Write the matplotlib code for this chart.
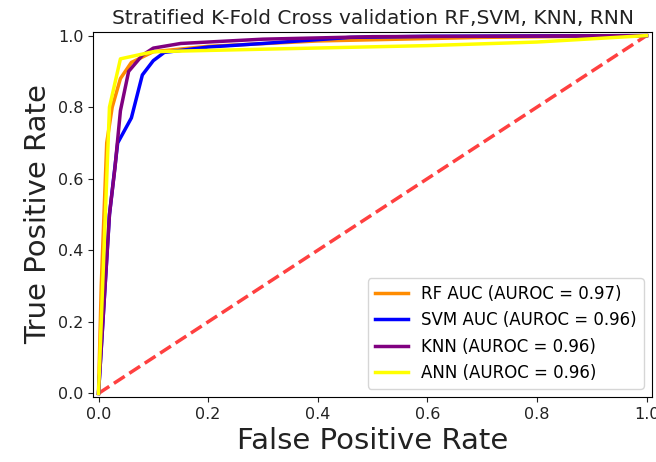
import numpy as np
import matplotlib
matplotlib.use("Agg")
import matplotlib.pyplot as plt

# ROC points (false positive rate, true positive rate)
rf_fpr = [0.0, 0.005, 0.015, 0.025, 0.04, 0.06, 0.1, 0.2, 0.4, 0.7, 1.0]
rf_tpr = [0.0, 0.30, 0.70, 0.80, 0.88, 0.925, 0.955, 0.97, 0.985, 0.995, 1.0]

svm_fpr = [0.0, 0.01, 0.02, 0.035, 0.06, 0.08, 0.1, 0.12, 0.2, 0.3, 0.46, 0.6, 1.0]
svm_tpr = [0.0, 0.25, 0.50, 0.70, 0.77, 0.89, 0.93, 0.953, 0.968, 0.978, 0.995, 0.998, 1.0]

knn_fpr = [0.0, 0.01, 0.02, 0.03, 0.04, 0.055, 0.08, 0.1, 0.15, 0.3, 0.5, 1.0]
knn_tpr = [0.0, 0.25, 0.50, 0.63, 0.79, 0.90, 0.945, 0.965, 0.978, 0.99, 0.997, 1.0]

ann_fpr = [0.0, 0.005, 0.02, 0.04, 0.1, 0.3, 0.6, 0.8, 1.0]
ann_tpr = [0.0, 0.20, 0.80, 0.935, 0.955, 0.962, 0.972, 0.982, 1.0]

labels = ["RF AUC (AUROC = 0.97)", "SVM AUC (AUROC = 0.96)",
          "KNN (AUROC = 0.96)", "ANN (AUROC = 0.96)"]

fig = plt.figure(figsize=(6.56, 4.62), dpi=100)
ax = fig.add_axes([0.1418, 0.1407, 0.8521, 0.79])

ax.plot([0, 1], [0, 1], linestyle="--", lw=2.5, color="r", alpha=0.75)
ax.plot(rf_fpr, rf_tpr, color="darkorange", lw=2.5, label=labels[0])
ax.plot(svm_fpr, svm_tpr, color="blue", lw=2.5, label=labels[1])
ax.plot(knn_fpr, knn_tpr, color="purple", lw=2.5, label=labels[2])
ax.plot(ann_fpr, ann_tpr, color="yellow", lw=2.5, label=labels[3])

ax.set_xlim(-0.01, 1.01)
ax.set_ylim(-0.01, 1.01)
ax.tick_params(labelsize=11.5, colors="#222222")
ax.set_xlabel("False Positive Rate", fontsize=21, color="#222222")
ax.set_ylabel("True Positive Rate", fontsize=21, color="#222222")
ax.set_title("Stratified K-Fold Cross validation RF,SVM, KNN, RNN", fontsize=14.5, color="#222222")
ax.legend(loc="lower right", fontsize=12)

plt.savefig("out.png", dpi=100)
